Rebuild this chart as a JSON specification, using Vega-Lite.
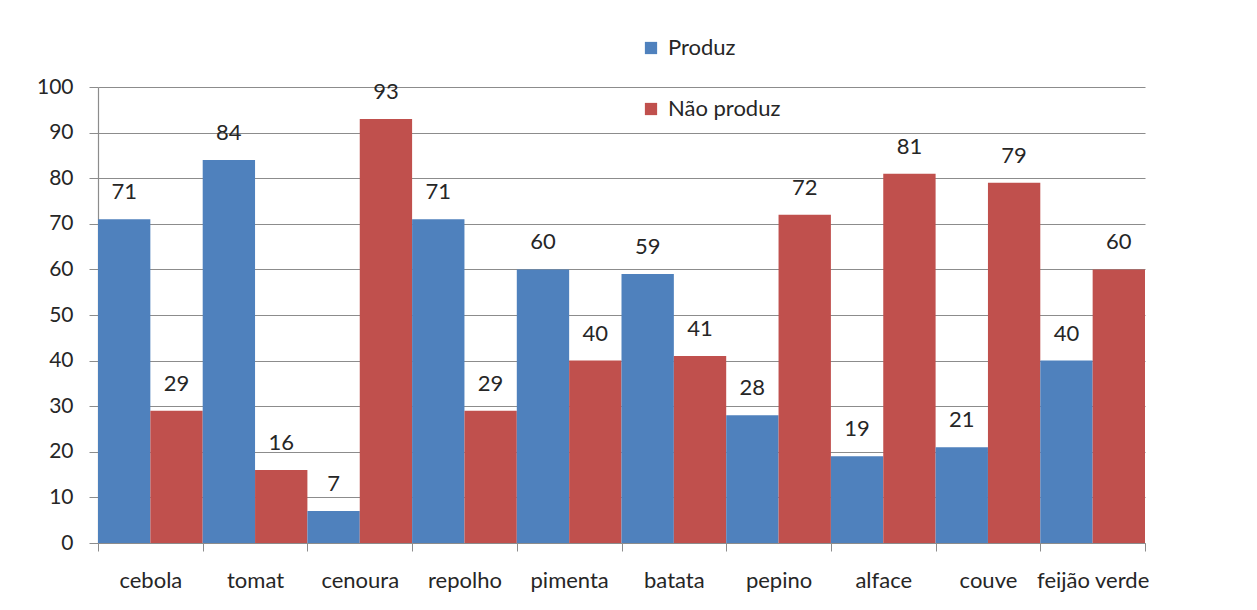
{
  "$schema": "https://vega.github.io/schema/vega-lite/v6.json",
  "autosize": {"type": "none"},
  "width": 1047,
  "height": 456,
  "padding": {"left": 98, "top": 87, "right": 112, "bottom": 67},
  "background": "white",
  "config": {
    "font": "Lato",
    "view": {"stroke": null},
    "axis": {
      "labelFont": "Lato",
      "labelFontSize": 21,
      "labelColor": "#262626",
      "domainColor": "#8c8c8c",
      "tickColor": "#8c8c8c",
      "gridColor": "#8c8c8c",
      "title": null
    }
  },
  "data": {
    "values": [
      {"cultura": "cebola", "serie": "Produz", "pct": 71},
      {"cultura": "cebola", "serie": "Não produz", "pct": 29},
      {"cultura": "tomat", "serie": "Produz", "pct": 84},
      {"cultura": "tomat", "serie": "Não produz", "pct": 16},
      {"cultura": "cenoura", "serie": "Produz", "pct": 7},
      {"cultura": "cenoura", "serie": "Não produz", "pct": 93},
      {"cultura": "repolho", "serie": "Produz", "pct": 71},
      {"cultura": "repolho", "serie": "Não produz", "pct": 29},
      {"cultura": "pimenta", "serie": "Produz", "pct": 60},
      {"cultura": "pimenta", "serie": "Não produz", "pct": 40},
      {"cultura": "batata", "serie": "Produz", "pct": 59},
      {"cultura": "batata", "serie": "Não produz", "pct": 41},
      {"cultura": "pepino", "serie": "Produz", "pct": 28},
      {"cultura": "pepino", "serie": "Não produz", "pct": 72},
      {"cultura": "alface", "serie": "Produz", "pct": 19},
      {"cultura": "alface", "serie": "Não produz", "pct": 81},
      {"cultura": "couve", "serie": "Produz", "pct": 21},
      {"cultura": "couve", "serie": "Não produz", "pct": 79},
      {"cultura": "feijão verde", "serie": "Produz", "pct": 40},
      {"cultura": "feijão verde", "serie": "Não produz", "pct": 60}
    ]
  },
  "encoding": {
    "x": {
      "field": "cultura",
      "type": "nominal",
      "sort": null,
      "scale": {"paddingInner": 0, "paddingOuter": 0},
      "axis": {
        "labelAngle": 0,
        "labelFontSize": 22,
        "tickBand": "extent",
        "tickSize": 8,
        "labelPadding": 19,
        "domainWidth": 1.2
      }
    },
    "xOffset": {"field": "serie", "type": "nominal", "sort": ["Produz", "Não produz"], "scale": {"paddingInner": 0, "paddingOuter": 0}},
    "y": {
      "field": "pct",
      "type": "quantitative",
      "scale": {"domain": [0, 100]},
      "axis": {
        "values": [0, 10, 20, 30, 40, 50, 60, 70, 80, 90, 100],
        "tickSize": 9,
        "labelPadding": 16,
        "grid": true,
        "gridWidth": 1.2,
        "domainWidth": 1.2
      }
    }
  },
  "layer": [
    {
      "mark": {"type": "bar"},
      "encoding": {
        "color": {
          "field": "serie",
          "type": "nominal",
          "sort": ["Produz", "Não produz"],
          "scale": {"domain": ["Produz", "Não produz"], "range": ["#4F81BD", "#C0504D"]},
          "legend": {
            "title": null,
            "orient": "none",
            "legendX": 542,
            "legendY": -50,
            "direction": "vertical",
            "symbolType": "square",
            "symbolSize": 150,
            "symbolStrokeWidth": 0,
            "labelFontSize": 22,
            "labelFont": "Lato",
            "labelColor": "#262626",
            "labelOffset": 6,
            "rowPadding": 39,
            "padding": 0
          }
        }
      }
    },
    {
      "mark": {"type": "text", "baseline": "middle", "dy": -27, "fontSize": 22, "color": "#262626"},
      "encoding": {
        "text": {"field": "pct", "type": "quantitative"}
      }
    }
  ]
}
